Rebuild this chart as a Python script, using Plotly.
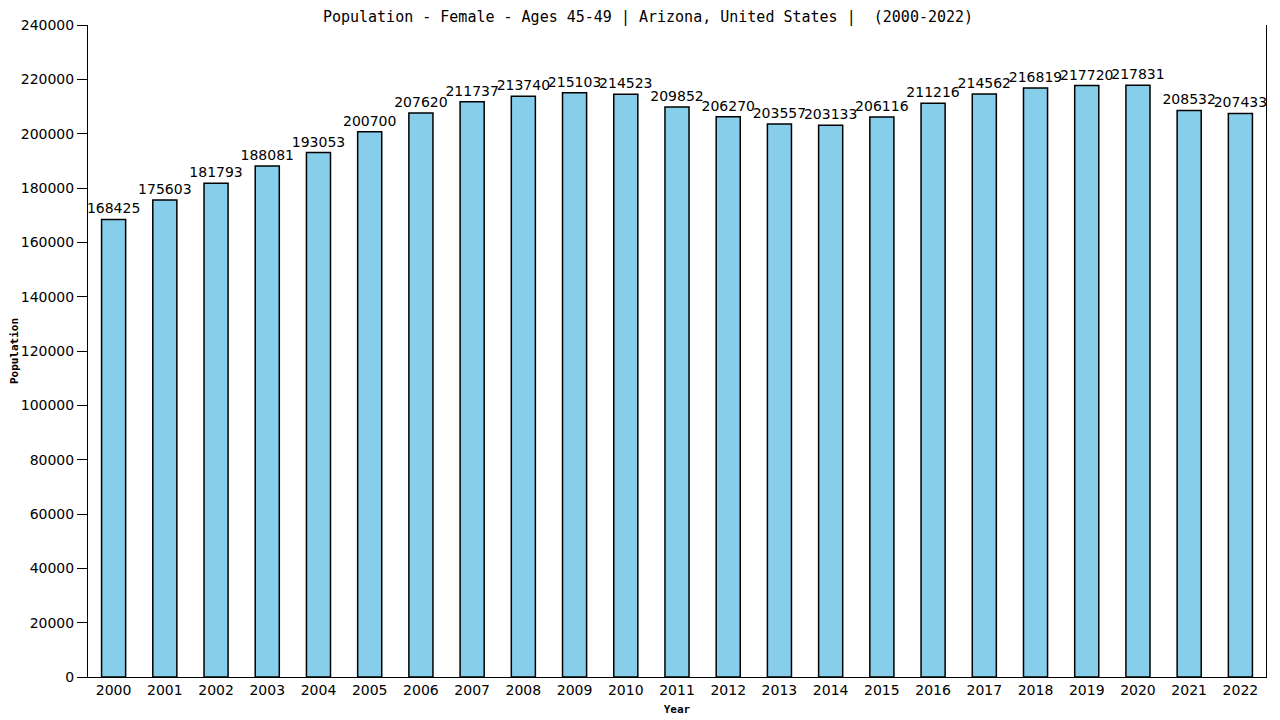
import plotly.graph_objects as go


years = [str(y) for y in range(2000, 2023)]
population = [168425, 175603, 181793, 188081, 193053, 200700, 207620, 211737,
              213740, 215103, 214523, 209852, 206270, 203557, 203133, 206116,
              211216, 214562, 216819, 217720, 217831, 208532, 207433]
y_ticks = list(range(0, 240001, 20000))

title = "Population - Female - Ages 45-49 | Arizona, United States |  (2000-2022)"

bars = go.Bar(
    x=years,
    y=population,
    marker={'color': '#87CEEB', 'line': {'color': 'black', 'width': 1.5}},
    text=[str(v) for v in population],
    textposition='outside',
    textfont={'family': 'DejaVu Sans', 'size': 14, 'color': 'black'},
    constraintext='none',
    cliponaxis=False,
)

fig = go.Figure(bars)
# page body adds an 8px offset, margins compensate for it
fig.update_layout(
    width=1280,
    height=720,
    paper_bgcolor='white',
    plot_bgcolor='white',
    bargap=0.53,
    showlegend=False,
    margin={'l': 80, 'r': 22, 't': 17, 'b': 51, 'autoexpand': False},
    title={'text': title, 'x': 0.5, 'xanchor': 'center', 'y': 0.9875, 'yanchor': 'middle',
           'font': {'family': 'DejaVu Sans Mono', 'size': 15, 'color': 'black'}},
    font={'family': 'DejaVu Sans', 'size': 14, 'color': 'black'},
)
fig.update_xaxes(
    automargin=False,
    showline=True, linecolor='black', linewidth=1,
    showgrid=False, ticks='', range=[-0.5, 22.5],
    tickfont={'family': 'DejaVu Sans', 'size': 14},
    title={'text': '<b>Year</b>', 'standoff': 8,
           'font': {'family': 'DejaVu Sans Mono', 'size': 11}},
)
fig.update_yaxes(
    automargin=False,
    showline=True, linecolor='black', linewidth=1, mirror=True,
    showgrid=False, zeroline=False, ticks='outside', ticklen=10, tickcolor='black',
    range=[0, 240000], tickvals=y_ticks, ticktext=[str(v) for v in y_ticks],
    tickfont={'family': 'DejaVu Sans', 'size': 14},
    title={'text': '<b>Population</b>', 'standoff': 1,
           'font': {'family': 'DejaVu Sans Mono', 'size': 11}},
)

fig.write_html("out.html")
